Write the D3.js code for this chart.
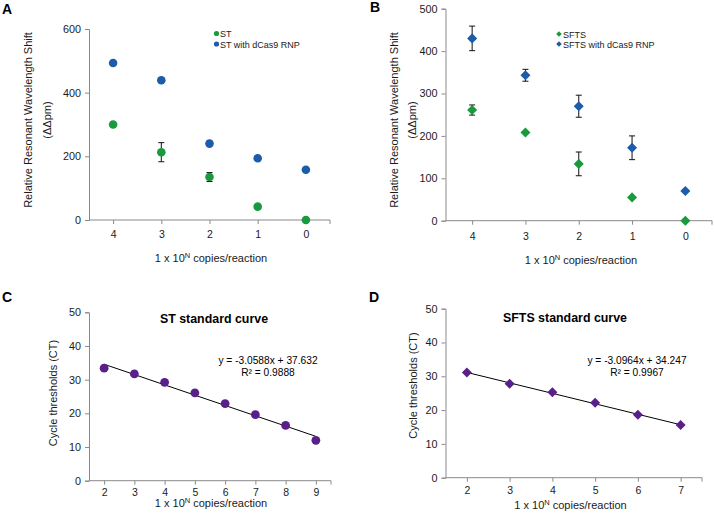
<!DOCTYPE html>
<html><head><meta charset="utf-8">
<script src="https://cdn.jsdelivr.net/npm/d3@7"></script>
<style>body{margin:0;background:#fff}svg{display:block;font-family:"Liberation Sans",Arial,sans-serif}</style>
</head><body>
<svg id="c" width="714" height="518"></svg>
<script>
// ---- data ----
const copiesAB = [4, 3, 2, 1, 0];
const stVals = [300, 213, 135, 42, 0];
const stErr = [0, 30, 14, 0, 0];
const stDcasVals = [493, 439, 240, 194, 158];
const stDcasErr = [0, 7, 0, 0, 0];
const sftsVals = [261, 208, 134, 55, 0];
const sftsErr = [12, 0, 28, 0, 0];
const sftsDcasVals = [430, 343, 270, 172, 70];
const sftsDcasErr = [29, 14, 26, 28, 0];
const copiesC = [2, 3, 4, 5, 6, 7, 8, 9];
const ctC = [33.4, 31.7, 29.2, 26.1, 22.9, 19.6, 16.4, 12.0];
const fitC = {slope: -3.0588, intercept: 37.632, r2: "0.9888"};
const copiesD = [2, 3, 4, 5, 6, 7];
const ctD = [31.1, 27.8, 25.3, 22.2, 18.6, 15.6];
const fitD = {slope: -3.0964, intercept: 34.247, r2: "0.9967"};
const ticksA = [0, 200, 400, 600];
const ticksB = [0, 100, 200, 300, 400, 500];
const ticksCD = [0, 10, 20, 30, 40, 50];

const GREEN = "#1a9a3e", BLUE = "#1d5ca8", PURPLE = "#5a2089";
const AX = "#8a8a8a", TXT = "#1a1a1a";
const svg = d3.select("#c");

function panel(o) {
  const g = svg.append("g");
  const x = d3.scaleLinear().domain(o.xd).range(o.xr);
  const y = d3.scaleLinear().domain(o.yd).range(o.yr);
  const ya = g.append("g").attr("transform", `translate(${o.xr[0]},0)`)
    .call(d3.axisLeft(y).tickValues(o.yticks).tickSize(4).tickPadding(4).tickFormat(d3.format("d")));
  ya.select(".domain").attr("stroke", AX);
  ya.selectAll(".tick line").attr("stroke", AX);
  ya.selectAll("text").attr("fill", TXT).style("font-size", "10.8px").style("font-family", "Liberation Sans, Arial");
  const xa = g.append("g").attr("transform", `translate(0,${o.yr[0]})`)
    .call(d3.axisBottom(x).tickValues(o.xcats).tickSize(4).tickPadding(o.xpad).tickFormat(d3.format("d")));
  xa.select(".domain").attr("stroke", AX).attr("d", `M${o.xr[0]},0H${o.xr[1]}`);
  xa.selectAll(".tick line").attr("stroke", AX);
  xa.selectAll("text").attr("fill", TXT).style("font-size", "10.5px").style("font-family", "Liberation Sans, Arial");
  xa.append("line").attr("x1", o.xr[1]).attr("x2", o.xr[1]).attr("y1", 0).attr("y2", 4).attr("stroke", AX);
  return {g, x, y};
}

function xTitle(cx, by) {
  const t = svg.append("text").attr("x", cx).attr("y", by).attr("text-anchor", "middle")
    .attr("fill", TXT).style("font-size", "11px");
  t.append("tspan").text("1 x 10");
  t.append("tspan").attr("dy", -4).style("font-size", "7.5px").text("N");
  t.append("tspan").attr("dy", 4).text(" copies/reaction");
}
function yTitle(lines, cy) {
  lines.forEach(([cx, s]) => {
    svg.append("text").attr("transform", `translate(${cx},${cy}) rotate(-90)`)
      .attr("text-anchor", "middle").attr("dy", "0.35em").attr("fill", TXT).style("font-size", "11px").text(s);
  });
}
function label(s, xx, yy) {
  svg.append("text").attr("x", xx).attr("y", yy).attr("fill", "#000")
    .style("font-size", "14px").style("font-weight", "bold").text(s);
}
const diamond = d3.symbol().type(d3.symbolDiamond2);

function errBars(p, xs, vals, errs) {
  xs.forEach((xv, i) => {
    if (!errs[i]) return;
    const cx = p.x(xv), y1 = p.y(vals[i] - errs[i]), y2 = p.y(vals[i] + errs[i]);
    p.g.append("path").attr("d", `M${cx},${y1}V${y2}M${cx-3},${y1}H${cx+3}M${cx-3},${y2}H${cx+3}`)
      .attr("stroke", "#111").attr("stroke-width", 1).attr("fill", "none");
  });
}
function circles(p, xs, vals, col, r) {
  p.g.selectAll(null).data(vals).join("circle")
    .attr("cx", (d, i) => p.x(xs[i])).attr("cy", d => p.y(d)).attr("r", r).attr("fill", col);
}
function diamonds(p, xs, vals, col, size) {
  p.g.selectAll(null).data(vals).join("path")
    .attr("d", diamond.size(size)())
    .attr("transform", (d, i) => `translate(${p.x(xs[i])},${p.y(d)})`).attr("fill", col);
}

// ---- Panel A ----
const pA = panel({xd: [4.5, -0.5], xr: [89, 330], yd: [0, 600], yr: [220, 29], yticks: ticksA, xcats: copiesAB, xpad: 7});
errBars(pA, copiesAB, stVals, stErr);
errBars(pA, copiesAB, stDcasVals, stDcasErr);
circles(pA, copiesAB, stVals, GREEN, 4.3);
circles(pA, copiesAB, stDcasVals, BLUE, 4.3);
svg.append("circle").attr("cx", 216.5).attr("cy", 33.5).attr("r", 2.6).attr("fill", GREEN);
svg.append("circle").attr("cx", 216.5).attr("cy", 44).attr("r", 2.6).attr("fill", BLUE);
svg.append("text").attr("x", 220).attr("y", 37).attr("fill", TXT).style("font-size", "9px").text("ST");
svg.append("text").attr("x", 220).attr("y", 47.5).attr("fill", TXT).style("font-size", "9px").text("ST with dCas9 RNP");
yTitle([[28, "Relative Resonant Wavelength Shift"], [47, "(ΔΔpm)"]], 120);
xTitle(211, 262);
label("A", 2, 14);

// ---- Panel B ----
const pB = panel({xd: [4.5, -0.5], xr: [445.5, 712], yd: [0, 500], yr: [220.7, 8.7], yticks: ticksB, xcats: copiesAB, xpad: 8});
errBars(pB, copiesAB, sftsVals, sftsErr);
errBars(pB, copiesAB, sftsDcasVals, sftsDcasErr);
diamonds(pB, copiesAB, sftsVals, GREEN, 64);
diamonds(pB, copiesAB, sftsDcasVals, BLUE, 64);
svg.append("path").attr("d", diamond.size(20)()).attr("transform", "translate(559,34)").attr("fill", GREEN);
svg.append("path").attr("d", diamond.size(20)()).attr("transform", "translate(559,44)").attr("fill", BLUE);
svg.append("text").attr("x", 563).attr("y", 37.5).attr("fill", TXT).style("font-size", "9px").text("SFTS");
svg.append("text").attr("x", 563).attr("y", 48).attr("fill", TXT).style("font-size", "9px").text("SFTS with dCas9 RNP");
yTitle([[394, "Relative Resonant Wavelength Shift"], [412, "(ΔΔpm)"]], 120);
xTitle(581, 264);
label("B", 370, 12);

// ---- Panel C ----
const pC = panel({xd: [1.5, 9.5], xr: [89, 331], yd: [0, 50], yr: [480.7, 312.3], yticks: ticksCD, xcats: copiesC, xpad: 4});
const lineC = copiesC.map((c, i) => [c, fitC.slope * (i + 1) + fitC.intercept]);
pC.g.append("path").datum(lineC).attr("d", d3.line().x(d => pC.x(d[0])).y(d => pC.y(d[1])))
  .attr("stroke", "#000").attr("stroke-width", 1).attr("fill", "none");
circles(pC, copiesC, ctC, PURPLE, 4.4);
svg.append("text").attr("x", 214).attr("y", 323).attr("text-anchor", "middle").attr("fill", "#000")
  .style("font-size", "12.4px").style("font-weight", "bold").text("ST standard curve");
svg.append("text").attr("x", 268).attr("y", 364).attr("text-anchor", "middle").attr("fill", "#000")
  .style("font-size", "10.2px").text(`y = ${fitC.slope}x + ${fitC.intercept}`);
svg.append("text").attr("x", 268).attr("y", 375.5).attr("text-anchor", "middle").attr("fill", "#000")
  .style("font-size", "10.2px").text(`R² = ${fitC.r2}`);
yTitle([[53, "Cycle thresholds (CT)"]], 393);
xTitle(211, 507);
label("C", 2, 302);

// ---- Panel D ----
const pD = panel({xd: [1.5, 7.5], xr: [445.5, 702], yd: [0, 50], yr: [477.7, 308.7], yticks: ticksCD, xcats: copiesD, xpad: 5});
const lineD = copiesD.map((c, i) => [c, fitD.slope * (i + 1) + fitD.intercept]);
pD.g.append("path").datum(lineD).attr("d", d3.line().x(d => pD.x(d[0])).y(d => pD.y(d[1])))
  .attr("stroke", "#000").attr("stroke-width", 1).attr("fill", "none");
diamonds(pD, copiesD, ctD, PURPLE, 64);
svg.append("text").attr("x", 565).attr("y", 321.5).attr("text-anchor", "middle").attr("fill", "#000")
  .style("font-size", "12.4px").style("font-weight", "bold").text("SFTS standard curve");
svg.append("text").attr("x", 637).attr("y", 364).attr("text-anchor", "middle").attr("fill", "#000")
  .style("font-size", "10.2px").text(`y = ${fitD.slope}x + ${fitD.intercept}`);
svg.append("text").attr("x", 637).attr("y", 376).attr("text-anchor", "middle").attr("fill", "#000")
  .style("font-size", "10.2px").text(`R² = ${fitD.r2}`);
yTitle([[413, "Cycle thresholds (CT)"]], 385.5);
xTitle(570.5, 509);
label("D", 369, 302);
</script>
</body></html>
